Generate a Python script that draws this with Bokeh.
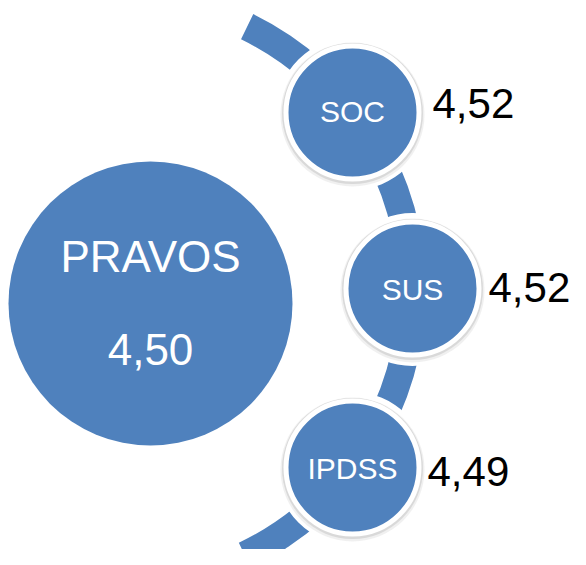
import math
from bokeh.plotting import figure
from bokeh.models import Range1d
from bokeh.core.properties import value
from bokeh.embed import file_html
from bokeh.resources import INLINE

# Data
main_label = "PRAVOS"
main_value = "4,50"
sub_labels = ["SOC", "SUS", "IPDSS"]
sub_values = ["4,52", "4,52", "4,49"]

BLUE = "#4F81BD"
W, H = 570, 549

def Y(sy):
    return H - sy

p = figure(width=W, height=H, output_backend="svg", toolbar_location=None,
           x_range=Range1d(0, W), y_range=Range1d(0, H), min_border=0)
p.axis.visible = False
p.grid.visible = False
p.outline_line_color = None
p.background_fill_color = "white"
p.border_fill_color = "white"

# arc through small circles
acx, acy, R = 118, Y(290), 293.5
p.annular_wedge(x=acx, y=acy, inner_radius=R - 14, outer_radius=R + 14,
                start_angle=math.radians(-64.5), end_angle=math.radians(64),
                fill_color=BLUE, line_color=None)

# main circle
p.circle(x=150, y=Y(303), radius=142, fill_color=BLUE, line_color=None)
p.text(x=[150], y=[Y(256)], text=[main_label], text_color="white",
       text_font=value("Liberation Sans"), text_font_size="44px",
       text_align="center", text_baseline="middle")
p.text(x=[150], y=[Y(349)], text=[main_value], text_color="white",
       text_font=value("Liberation Sans"), text_font_size="44px",
       text_align="center", text_baseline="middle")

# small circles
cxs = [352, 412, 352]
cys = [Y(112), Y(288), Y(467)]
lys = [Y(111), Y(289), Y(468)]
vxs = [432, 488, 427]
vys = [Y(103), Y(287), Y(471)]

p.circle(x=cxs, y=[c - 1 for c in cys], radius=76.5, fill_color="white",
         line_color=None)
p.circle(x=cxs, y=[c - 2 for c in cys], radius=72, fill_color="#999999",
         fill_alpha=0.15, line_color=None)
p.circle(x=cxs, y=[c - 1 for c in cys], radius=70.5, fill_color="#888888",
         fill_alpha=0.22, line_color=None)
p.circle(x=cxs, y=cys, radius=66.5, fill_color=BLUE, line_color="white",
         line_width=5)
p.text(x=cxs, y=lys, text=sub_labels, text_color="white",
       text_font=value("Liberation Sans"), text_font_size="30px",
       text_align="center", text_baseline="middle")
p.text(x=vxs, y=vys, text=sub_values, text_color="black",
       text_font=value("Liberation Sans"), text_font_size="42px",
       text_align="left", text_baseline="middle")

open("out.html", "w").write(file_html(p, INLINE))
